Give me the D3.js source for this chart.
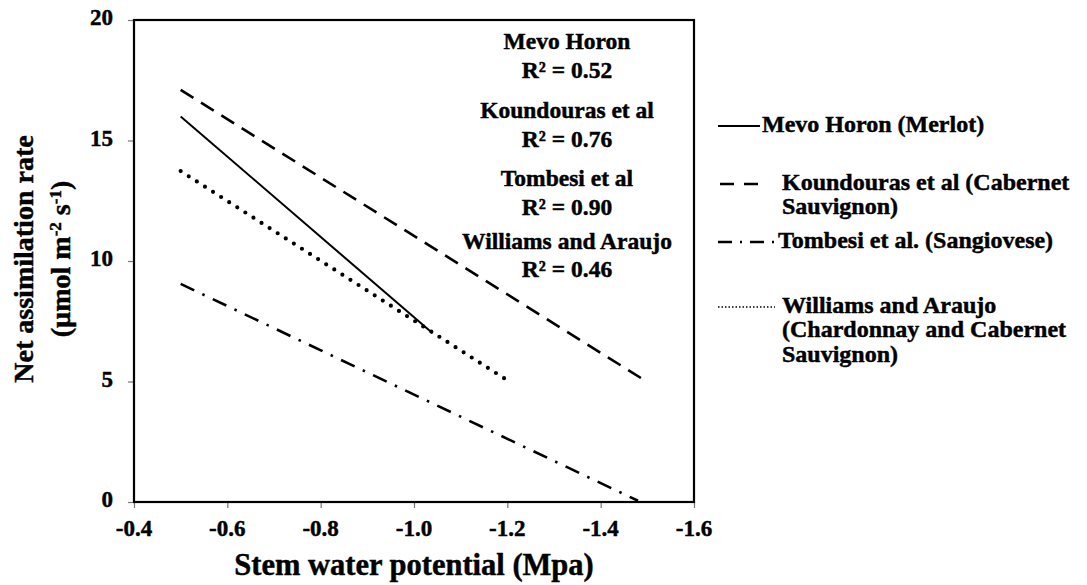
<!DOCTYPE html>
<html><head><meta charset="utf-8">
<script src="https://cdn.jsdelivr.net/npm/d3@7"></script>
<style>body{margin:0;background:#fff}svg{display:block}text{font-family:"Liberation Serif","Times New Roman",serif;font-weight:bold;fill:#000;stroke:#000;stroke-width:0.45px}</style>
</head><body>
<svg id="c" width="1087" height="585"></svg>
<script>
// Data
const seriesNames = ["Mevo Horon (Merlot)", "Koundouras et al (Cabernet Sauvignon)", "Tombesi et al. (Sangiovese)", "Williams and Araujo (Chardonnay and Cabernet Sauvignon)"];
const mevoX = [-0.5, -1.04], mevoY = [16.0, 7.0];
const koundX = [-0.5, -1.49], koundY = [17.1, 5.1];
const tombX = [-0.5, -1.48], tombY = [9.05, 0.05];
const willX = [-0.5, -1.2], willY = [13.73, 5.05];
const xTicks = [-0.4, -0.6, -0.8, -1.0, -1.2, -1.4, -1.6];
const yTicks = [0, 5, 10, 15, 20];
const r2Labels = [["Mevo Horon", "R² = 0.52"], ["Koundouras et al", "R² = 0.76"], ["Tombesi et al", "R² = 0.90"], ["Williams and Araujo", "R² = 0.46"]];

const svg = d3.select("#c");
const L = 134, R = 694, T = 20, B = 502;
const x = d3.scaleLinear().domain([-0.4, -1.6]).range([L, R]);
const y = d3.scaleLinear().domain([0, 20]).range([B, T]);

// axes (tick marks via d3 axis, labels drawn as own text)
const xa = svg.append("g").attr("transform", `translate(0,${B})`)
  .call(d3.axisBottom(x).tickValues(xTicks).tickFormat("").tickSize(6).tickSizeOuter(0));
const ya = svg.append("g").attr("transform", `translate(${L},0)`)
  .call(d3.axisLeft(y).tickValues(yTicks).tickFormat("").tickSize(6).tickSizeOuter(0));
[xa, ya].forEach(g => {
  g.select(".domain").remove();
  g.selectAll(".tick text").remove();
  g.selectAll(".tick line").attr("stroke", "#777").attr("stroke-width", 1.2);
});
svg.append("g").selectAll("text").data(xTicks).join("text")
  .attr("x", d => x(d)).attr("y", 531).attr("text-anchor", "middle").attr("dominant-baseline", "middle")
  .attr("font-size", 23).text(d => d.toFixed(1));
svg.append("g").selectAll("text").data(yTicks).join("text")
  .attr("x", L - 21).attr("y", d => y(d)).attr("text-anchor", "end").attr("dominant-baseline", "middle")
  .attr("font-size", 23).text(d => String(d));

// frame
svg.append("rect").attr("x", L).attr("y", T).attr("width", R - L).attr("height", B - T)
  .attr("fill", "none").attr("stroke", "#000").attr("stroke-width", 2.2);

const line = d3.line().x(d => x(d[0])).y(d => y(d[1]));
const zip = (a, b) => a.map((v, i) => [v, b[i]]);
const styles = [
  {w: 2, dash: null, cap: "butt"},
  {w: 2.6, dash: "15,9", cap: "butt"},
  {w: 2.6, dash: "15,9,2.5,9", cap: "butt"},
  {w: 4.2, dash: "0,9.6", cap: "round"}
];
const data = [zip(mevoX, mevoY), zip(koundX, koundY), zip(tombX, tombY), zip(willX, willY)];
data.forEach((d, i) => {
  svg.append("path").attr("d", line(d)).attr("fill", "none").attr("stroke", "#000")
    .attr("stroke-width", styles[i].w).attr("stroke-dasharray", styles[i].dash)
    .attr("stroke-linecap", styles[i].cap);
});

// R2 labels
const r2Y = [[44, 73], [113, 142], [181, 210], [244, 272]];
r2Labels.forEach((lab, i) => {
  lab.forEach((t, j) => {
    svg.append("text").attr("x", 567).attr("y", r2Y[i][j]).attr("text-anchor", "middle")
      .attr("dominant-baseline", "middle").attr("font-size", 23.5).text(t);
  });
});

// axis titles
svg.append("text").attr("x", 414).attr("y", 575).attr("text-anchor", "middle").attr("font-size", 30.5).text("Stem water potential (Mpa)");
const yt = svg.append("g").attr("transform", "translate(0,259) rotate(-90)");
yt.append("text").attr("x", 0).attr("y", 33).attr("text-anchor", "middle").attr("font-size", 28).text("Net assimilation rate");
const yt2 = yt.append("text").attr("x", 0).attr("y", 70).attr("text-anchor", "middle").attr("font-size", 28);
yt2.append("tspan").text("(µmol m");
yt2.append("tspan").attr("baseline-shift", "super").attr("font-size", 17).text("-2");
yt2.append("tspan").text(" s");
yt2.append("tspan").attr("baseline-shift", "super").attr("font-size", 17).text("-1");
yt2.append("tspan").text(")");

// legend
const leg = [
  {lines: ["Mevo Horon (Merlot)"], y: 126, x0: 718, x1: 760, tx: 762},
  {lines: ["Koundouras et al (Cabernet", "Sauvignon)"], y: 184, x0: 720, x1: 765, tx: 782},
  {lines: ["Tombesi et al. (Sangiovese)"], y: 242, x0: 718, x1: 777, tx: 778},
  {lines: ["Williams and Araujo", "(Chardonnay and Cabernet", "Sauvignon)"], y: 307, x0: 718, x1: 775, tx: 782}
];
const legStyles = [
  {w: 2, dash: null},
  {w: 2.6, dash: "14,10"},
  {w: 2.6, dash: "14,8,2,8"},
  {w: 1.6, dash: "1.5,2"}
];
leg.forEach((l, i) => {
  svg.append("line").attr("x1", l.x0).attr("x2", l.x1).attr("y1", l.y).attr("y2", l.y)
    .attr("stroke", "#000").attr("stroke-width", legStyles[i].w).attr("stroke-dasharray", legStyles[i].dash);
  l.lines.forEach((t, j) => {
    svg.append("text").attr("x", l.tx).attr("y", l.y + j * 24.5).attr("dominant-baseline", "middle")
      .attr("font-size", 24).text(t);
  });
});
</script>
</body></html>
